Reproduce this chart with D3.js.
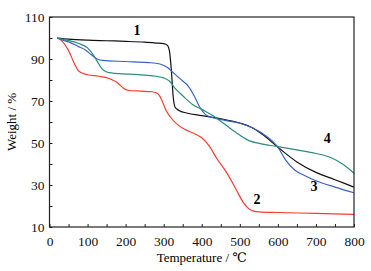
<!DOCTYPE html>
<html>
<head>
<meta charset="utf-8">
<script src="https://cdn.jsdelivr.net/npm/d3@7"></script>
<style>
  body { margin: 0; background: #fff; }
  svg text { font-family: "Liberation Serif", "DejaVu Serif", "Times New Roman", serif !important; }
</style>
</head>
<body>
<div id="chart"></div>
<script>
// Data (temperature in ℃, weight in %)
const curve1 = [[20,100],[50,99.5],[100,99],[150,98.7],[200,98.4],[250,98],[280,97.6],[300,97.3],[310,96.5],[315,94],[320,85],[325,72],[330,67],[340,65.5],[360,64.3],[400,63],[450,61.5],[500,59.5],[530,57.5],[560,54],[600,48],[650,41],[700,36],[750,32.5],[800,29]];
const curve2 = [[20,100],[30,99],[50,94],[65,88],[78,84],[100,82.5],[130,81.8],[160,80.5],[180,78.5],[195,76],[210,75],[240,74.7],[270,74.4],[285,73.5],[295,70.5],[305,66],[317,62.5],[335,59],[355,56.5],[380,54.5],[400,52.5],[420,48.5],[440,42.5],[465,36],[490,28],[510,21.5],[530,18],[550,17.2],[600,16.9],[700,16.5],[800,16]];
const curve3 = [[20,100],[35,99],[55,97.8],[75,96],[95,94.2],[110,92],[125,90],[140,89.3],[200,88.8],[260,88.3],[290,87.6],[310,86],[325,83.5],[350,79.5],[365,77],[380,72.5],[395,67],[410,63.5],[430,62],[460,60.8],[500,59.4],[530,57.5],[560,54.5],[585,51],[600,48],[620,42],[645,37],[670,34.5],[700,32],[750,29],[800,26.3]];
const curve4 = [[20,100],[45,99],[75,97.5],[100,95.3],[115,92],[125,89],[137,85.5],[150,83.8],[170,83.2],[210,82.8],[250,82.3],[280,81.8],[300,81],[315,79.5],[330,76],[350,72.5],[375,68.5],[400,66],[430,63],[460,59],[490,55],[520,51.5],[560,49.5],[600,48.3],[650,46.7],[700,45],[740,43],[770,40],[800,35.6]];

const seriesNames = ["1", "2", "3", "4"];
const seriesColors = ["#111111", "#ff3b2f", "#3a62c8", "#2e8b7e"];
// label positions in data units
const labelPos = [[230, 101.5], [545, 21], [695, 27], [730, 50]];

const xTicks = [0, 100, 200, 300, 400, 500, 600, 700, 800];
const yTicks = [10, 30, 50, 70, 90, 110];

const width = 371;
const height = 271;
const margin = {top: 17, right: 17, bottom: 44, left: 49.5};
const innerWidth = width - margin.left - margin.right;
const innerHeight = height - margin.top - margin.bottom;

const svg = d3.select("#chart")
  .append("svg")
    .attr("width", width)
    .attr("height", height);

const innerChart = svg
  .append("g")
    .attr("transform", `translate(${margin.left}, ${margin.top})`);

const xScale = d3.scaleLinear().domain([0, 800]).range([0, innerWidth]);
const yScale = d3.scaleLinear().domain([10, 110]).range([innerHeight, 0]);

// minor ticks (inward)
innerChart.append("g")
  .attr("transform", `translate(0, ${innerHeight})`)
  .call(d3.axisTop(xScale).tickValues(d3.range(0, 801, 50)).tickSize(3).tickFormat(""))
  .call(g => g.select(".domain").remove())
  .selectAll("line").attr("stroke", "#222");

innerChart.append("g")
  .call(d3.axisRight(yScale).tickValues(d3.range(10, 111, 10)).tickSize(3).tickFormat(""))
  .call(g => g.select(".domain").remove())
  .selectAll("line").attr("stroke", "#222");

// tick labels
const bottomAxis = d3.axisBottom(xScale).tickValues(xTicks).tickSize(0).tickPadding(9);
innerChart.append("g")
  .attr("transform", `translate(0, ${innerHeight})`)
  .call(bottomAxis)
  .call(g => g.select(".domain").remove())
  .selectAll("text")
    .attr("font-size", 13.5)
    .attr("fill", "#111");

const leftAxis = d3.axisLeft(yScale).tickValues(yTicks).tickSize(0).tickPadding(5);
innerChart.append("g")
  .call(leftAxis)
  .call(g => g.select(".domain").remove())
  .selectAll("text")
    .attr("font-size", 13.5)
    .attr("fill", "#111");

// curves
const line = d3.line()
  .x(d => xScale(d[0]))
  .y(d => yScale(d[1]))
  .curve(d3.curveMonotoneX);

[curve1, curve2, curve3, curve4].forEach((data, i) => {
  innerChart.append("path")
    .datum(data)
    .attr("d", line)
    .attr("fill", "none")
    .attr("stroke", seriesColors[i])
    .attr("stroke-width", 1.2);
});

// frame
innerChart.append("rect")
  .attr("width", innerWidth)
  .attr("height", innerHeight)
  .attr("fill", "none")
  .attr("stroke", "#222")
  .attr("stroke-width", 1.2);

// curve labels
seriesNames.forEach((name, i) => {
  innerChart.append("text")
    .attr("x", xScale(labelPos[i][0]))
    .attr("y", yScale(labelPos[i][1]))
    .attr("text-anchor", "middle")
    .attr("font-size", 14)
    .attr("font-weight", "bold")
    .text(name);
});

// axis titles
svg.append("text")
  .attr("x", margin.left + innerWidth / 2)
  .attr("y", 262)
  .attr("text-anchor", "middle")
  .attr("font-size", 13)
  .text("Temperature / ℃");

svg.append("text")
  .attr("transform", `translate(16, ${margin.top + innerHeight / 2}) rotate(-90)`)
  .attr("text-anchor", "middle")
  .attr("font-size", 13)
  .text("Weight / %");
</script>
</body>
</html>
